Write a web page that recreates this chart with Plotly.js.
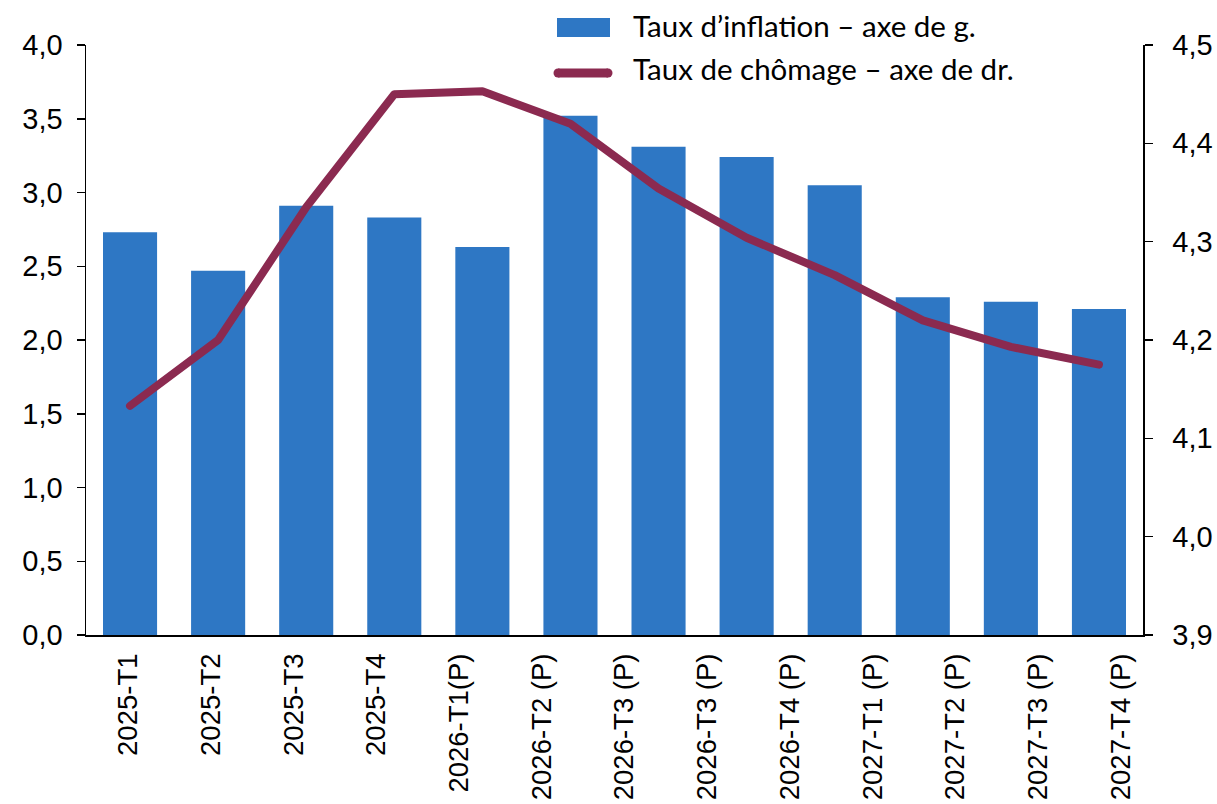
<!DOCTYPE html>
<html>
<head>
<meta charset="utf-8">
<script src="https://cdn.plot.ly/plotly-3.0.1.min.js"></script>
<style>
  html, body { margin: 0; padding: 0; background: #ffffff; }
  #chart { width: 1217px; height: 804px; }
  .scatterlayer .js-line { stroke-linecap: round; stroke-linejoin: round; }
</style>
</head>
<body>
<div id="chart"></div>
<script>
// ---- Data ----
const periods = [0, 1, 2, 3, 4, 5, 6, 7, 8, 9, 10, 11];
const inflation = [2.73, 2.47, 2.91, 2.83, 2.63, 3.52, 3.31, 3.24, 3.05, 2.29, 2.26, 2.21];
const unemployment = [4.133, 4.200, 4.335, 4.450, 4.453, 4.420, 4.354, 4.304, 4.266, 4.220, 4.193, 4.175];
const tickLabels = [
  "2025-T1", "2025-T2", "2025-T3", "2025-T4", "2026-T1(P)",
  "2026-T2 (P)", "2026-T3 (P)", "2026-T3 (P)", "2026-T4 (P)",
  "2027-T1 (P)", "2027-T2 (P)", "2027-T3 (P)", "2027-T4 (P)"
];
const seriesNames = ["Taux d\u2019inflation \u2013 axe de g.", "Taux de ch\u00f4mage \u2013 axe de dr."];

// ---- Styles ----
const barColor = "#2e77c4";
const lineColor = "#8b2a50";
const xTickFont = { family: "Liberation Sans, Arial, sans-serif", size: 27.5, color: "#000000" };
const yTickFont = { family: "Liberation Sans, Arial, sans-serif", size: 29, color: "#000000" };
const legendFont = { family: "Lato, Carlito, sans-serif", size: 29.5, color: "#000000" };

// 13 labels spread across the 12-category axis
const labelStart = -0.02, labelStep = 0.939;
const tickPositions = tickLabels.map((_, i) => labelStart + i * labelStep);

const traces = [
  {
    type: "bar",
    x: periods,
    y: inflation,
    name: seriesNames[0],
    marker: { color: barColor },
    yaxis: "y",
    hoverinfo: "y"
  },
  {
    type: "scatter",
    mode: "lines",
    x: periods,
    y: unemployment,
    name: seriesNames[1],
    line: { color: lineColor, width: 8 },
    yaxis: "y2",
    hoverinfo: "y"
  }
];

const px = (v) => (v - 86) / 1057;
const py = (v) => (635 - v) / 590;

const layout = {
  width: 1217,
  height: 804,
  margin: { l: 86, r: 74, t: 45, b: 169 },
  paper_bgcolor: "#ffffff",
  plot_bgcolor: "#ffffff",
  separators: ", ",
  showlegend: false,
  bargap: 0.386,
  xaxis: {
    range: [-0.5, 11.5],
    tickmode: "array",
    tickvals: tickPositions,
    ticktext: tickLabels,
    tickangle: -90,
    ticks: "",
    tickfont: xTickFont,
    showgrid: false,
    zeroline: false,
    showline: true,
    linecolor: "#000000",
    linewidth: 1.5,
    ticklabelstandoff: 6
  },
  yaxis: {
    range: [0, 4],
    dtick: 0.5,
    tick0: 0,
    tickformat: ".1f",
    ticks: "outside",
    ticklen: 8,
    tickwidth: 1.5,
    tickcolor: "#000000",
    tickfont: yTickFont,
    showgrid: false,
    zeroline: false,
    showline: true,
    linecolor: "#000000",
    linewidth: 1.5,
    ticklabelstandoff: 8
  },
  yaxis2: {
    range: [3.9, 4.5],
    dtick: 0.1,
    tick0: 3.9,
    tickformat: ".1f",
    overlaying: "y",
    side: "right",
    ticks: "outside",
    ticklen: 8,
    tickwidth: 1.5,
    tickcolor: "#000000",
    tickfont: yTickFont,
    showgrid: false,
    zeroline: false,
    showline: true,
    linecolor: "#000000",
    linewidth: 1.5,
    ticklabelstandoff: 14
  },
  shapes: [
    { type: "rect", xref: "paper", yref: "paper",
      x0: px(557), x1: px(610), y0: py(37), y1: py(18),
      fillcolor: barColor, line: { width: 0 } },
    { type: "line", xref: "paper", yref: "paper",
      x0: px(558), x1: px(608), y0: py(73), y1: py(73),
      line: { color: lineColor, width: 9 } },
    { type: "circle", xref: "paper", yref: "paper",
      x0: px(553.5), x1: px(562.5), y0: py(77.5), y1: py(68.5),
      fillcolor: lineColor, line: { width: 0 } },
    { type: "circle", xref: "paper", yref: "paper",
      x0: px(603.5), x1: px(612.5), y0: py(77.5), y1: py(68.5),
      fillcolor: lineColor, line: { width: 0 } }
  ],
  annotations: [
    { xref: "paper", yref: "paper", x: px(631), y: py(25),
      xanchor: "left", yanchor: "middle", showarrow: false,
      text: seriesNames[0], font: legendFont },
    { xref: "paper", yref: "paper", x: px(631), y: py(68),
      xanchor: "left", yanchor: "middle", showarrow: false,
      text: seriesNames[1], font: legendFont }
  ]
};

Plotly.newPlot("chart", traces, layout, { displayModeBar: false, staticPlot: true });
</script>
</body>
</html>
